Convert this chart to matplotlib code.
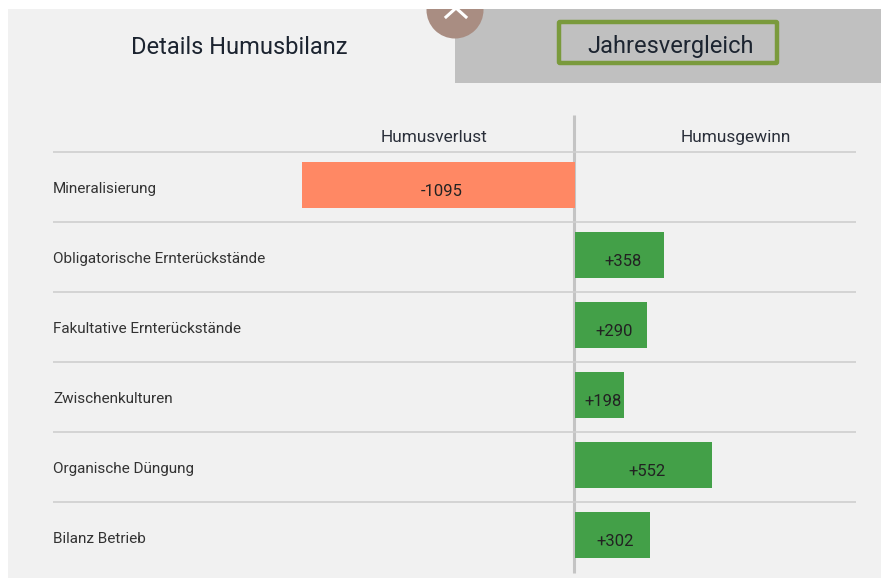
#!/usr/bin/env python
import matplotlib
matplotlib.use("Agg")
import matplotlib.pyplot as plt
from matplotlib.patches import Circle, FancyBboxPatch, Rectangle

plt.rcParams['font.family'] = ['Roboto', 'DejaVu Sans']

categories = ["Mineralisierung", "Obligatorische Ernterückstände", "Fakultative Ernterückstände",
              "Zwischenkulturen", "Organische Düngung", "Bilanz Betrieb"]
values = [-1095, 358, 290, 198, 552, 302]
value_labels = ["-1095", "+358", "+290", "+198", "+552", "+302"]

W, H = 881, 578
fig = plt.figure(figsize=(W / 100, H / 100), dpi=100, facecolor="white")

# page furniture, in pixel coords
bg = fig.add_axes([0, 0, 1, 1])
bg.set_xlim(0, W)
bg.set_ylim(H, 0)
bg.axis("off")
bg.add_patch(Rectangle((8, 9), W - 8, H - 9, fc="#f1f1f1", ec="none"))
bg.add_patch(Rectangle((455, 9), W - 455, 74, fc="#c0c0c0", ec="none"))
bg.add_patch(Circle((455, 10), 28.5, fc="#a98d82", ec="none", zorder=2))
bg.add_patch(Rectangle((8, 0), W - 8, 9, fc="white", ec="none", zorder=3))
bg.plot([446, 456, 466], [17, 8, 17], color="white", lw=2.2, zorder=4)
bg.add_patch(FancyBboxPatch((559, 22), 218, 41, boxstyle="round,pad=0,rounding_size=1",
                            fc="none", ec="#7a9a3c", lw=3.2))
bg.text(239, 47, "Details Humusbilanz", fontsize=17, color="#1c2430", ha="center", va="center")
bg.text(671, 47, "Jahresvergleich", fontsize=17, color="#1c2430", ha="center", va="center")
bg.text(434, 137.5, "Humusverlust", fontsize=12.4, color="#2a2f3a", ha="center", va="center")
bg.text(736, 137.5, "Humusgewinn", fontsize=12.4, color="#2a2f3a", ha="center", va="center")
bg.plot([573.5, 573.5], [115, 573], color="#c4c4c4", lw=2.2, solid_capstyle="butt")

# chart axes: x=0 sits at px 575, about 0.249 px per unit
left, right, top, bottom = 53, 856, 150, 573
ax = fig.add_axes([left / W, 1 - bottom / H, (right - left) / W, (bottom - top) / H])
ax.patch.set_alpha(0)
px = 0.249
ax.set_xlim((left - 575) / px, (right - 575) / px)
ax.set_ylim(5 + 38 / 70, -35 / 70)
for s in ax.spines.values():
    s.set_visible(False)
ax.set_xticks([])
ax.set_yticks([])

ypos = list(range(len(categories)))
colors = ["#ff8864" if v < 0 else "#43a048" for v in values]
ax.barh(ypos, values, height=46 / 70, color=colors, zorder=2)

for i in ypos:
    ax.axhline(i - 0.465, color="#cfcfcf", lw=1.2, zorder=1)

for i, name in enumerate(categories):
    ax.annotate(name, (0, i), xycoords=("axes fraction", "data"), xytext=(0, -4), textcoords="offset pixels",
                fontsize=11, color="#333333", ha="left", va="center")
    ax.annotate(value_labels[i], (values[i] / 2, i), xytext=(3, -7), textcoords="offset pixels",
                fontsize=12, color="#222222", ha="center", va="center", zorder=4)

fig.savefig("out.png", dpi=100)
